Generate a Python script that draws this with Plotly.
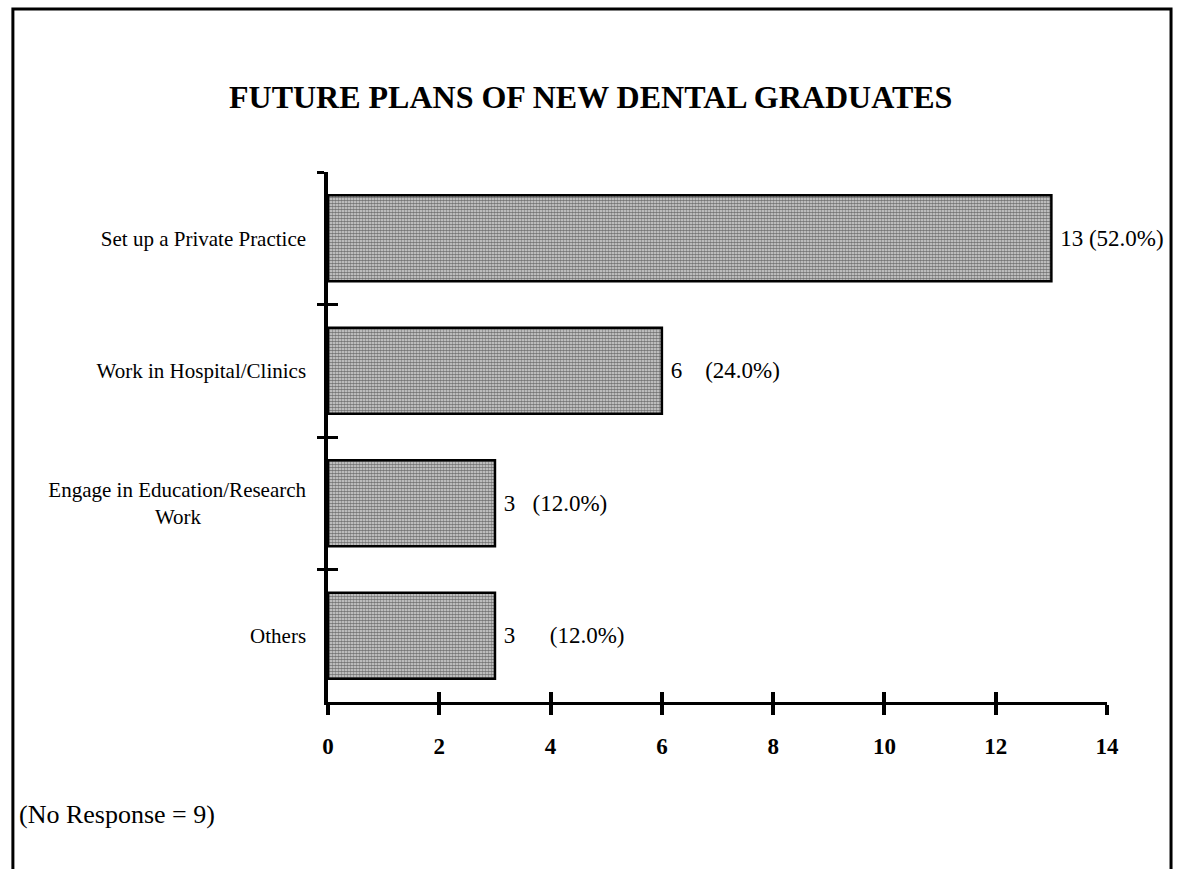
import plotly.graph_objects as go

categories = ["Set up a Private Practice", "Work in Hospital/Clinics",
              "Engage in Education/Research<br>Work", "Others"]
counts = [13, 6, 3, 3]
percents = ["52.0%", "24.0%", "12.0%", "12.0%"]
label_gaps = [1, 4, 3, 6]          # spacing between count and percent in the labels
x_ticks = [0, 2, 4, 6, 8, 10, 12, 14]
title_text = "FUTURE PLANS OF NEW DENTAL GRADUATES"
note_text = "(No Response = 9)"

NB = "\u00a0"
# center the second line of the two-line label under the first one
cat_labels = [c.replace("<br>Work", "<br>Work" + NB * 20) for c in categories]
bar_text = [NB + f"{c}" + NB * g + f"({p})" for c, g, p in zip(counts, label_gaps, percents)]

W, H = 1185, 869
serif = "Liberation Serif, Times New Roman, serif"

fig = go.Figure()
fig.add_trace(go.Bar(
    y=cat_labels, x=counts, orientation="h", width=0.65,
    marker=dict(color="#a0a0a0", line=dict(color="black", width=2.5),
                pattern=dict(shape=".", size=3, solidity=0.65, fgcolor="#0a0a0a", bgcolor="#e0e0e0")),
    text=bar_text, textposition="outside", cliponaxis=False,
    textfont=dict(family=serif, size=23, color="black"),
    hoverinfo="skip",
))

xd = [327 / W, 1118 / W]
yd = [1 - 702 / H, 1 - 172 / H]

fig.update_layout(
    width=W, height=H, margin=dict(l=0, r=0, t=0, b=0),
    paper_bgcolor="white", plot_bgcolor="white", showlegend=False,
    xaxis=dict(domain=xd, range=[0, 14], tickvals=x_ticks, ticks="outside", ticklen=10,
               tickwidth=3.5, tickcolor="black", showline=True, linecolor="black", linewidth=2.5,
               showgrid=False, zeroline=False, ticklabelstandoff=12,
               tickfont=dict(family=serif, size=23, color="black", weight="bold")),
    yaxis=dict(domain=yd, type="category", categoryarray=cat_labels,
               range=[3.5, -0.5], tickson="boundaries", ticks="outside", ticklen=7, tickwidth=3,
               tickcolor="black", showline=True, linecolor="black", linewidth=3.5, showgrid=False,
               ticklabelstandoff=14,
               tickfont=dict(family=serif, size=21, color="black")),
    xaxis2=dict(domain=xd, range=[0, 14], tickvals=x_ticks, ticks="inside", ticklen=10,
                tickwidth=3.5, tickcolor="black", overlaying="x", anchor="y", showticklabels=False,
                showgrid=False, zeroline=False, showline=False),
    yaxis2=dict(domain=yd, type="category", categoryarray=cat_labels, range=[3.5, -0.5],
                tickson="boundaries", ticks="inside", ticklen=10, tickwidth=3, tickcolor="black",
                overlaying="y", anchor="x", showticklabels=False, showgrid=False, showline=False),
)

# invisible trace so the overlay axes (crossing tick marks) render
fig.add_trace(go.Scatter(x=[counts[0]], y=[cat_labels[0]], xaxis="x2", yaxis="y2",
                         mode="markers", marker=dict(opacity=0), hoverinfo="skip"))

fig.add_shape(type="rect", xref="paper", yref="paper", x0=7 / W, x1=1183 / W,
              y0=-0.02, y1=1 - 9 / H, line=dict(color="black", width=3), layer="below")

fig.add_annotation(text=title_text, xref="paper", yref="paper", x=594 / W, y=1 - 97 / H,
                   showarrow=False, xanchor="center", yanchor="middle",
                   font=dict(family=serif, size=32, color="black", weight="bold"))
fig.add_annotation(text=note_text, xref="paper", yref="paper", x=11 / W, y=1 - 814 / H,
                   showarrow=False, xanchor="left", yanchor="middle",
                   font=dict(family=serif, size=26, color="black"))

fig.write_html("out.html")
